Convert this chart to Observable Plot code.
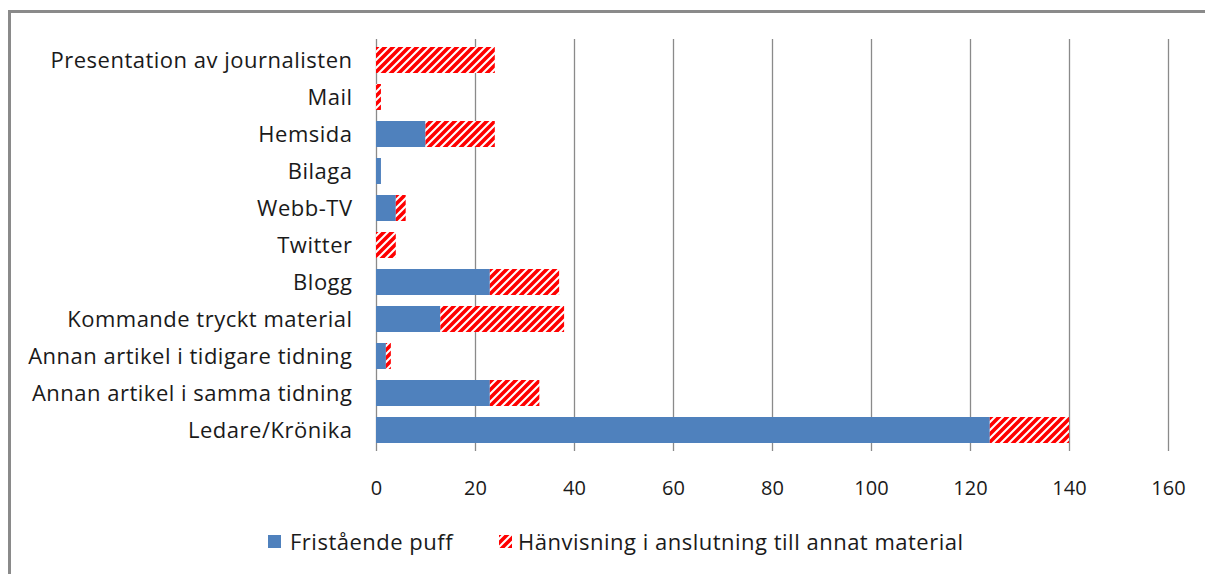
<!DOCTYPE html>
<html>
<head>
<meta charset="utf-8">
<script src="https://cdn.jsdelivr.net/npm/d3@7"></script>
<script src="https://cdn.jsdelivr.net/npm/@observablehq/plot@0.6"></script>
<style>
  html, body { margin: 0; padding: 0; background: #fff; }
  #wrap { position: relative; width: 1205px; height: 574px; overflow: hidden; font-family: "Open Sans", sans-serif; color: #1a1a1a; }
  #frame { position: absolute; left: 8px; top: 10px; width: 1300px; height: 700px; border-left: 3px solid #8a8a8a; border-top: 3px solid #8a8a8a; box-sizing: border-box; }
  #chart { position: absolute; left: 0; top: 0; }
  #legend { position: absolute; left: 0; top: 520px; width: 1205px; height: 54px; font-size: 22px; letter-spacing: 0.5px; }
  .sw { position: absolute; top: 15px; width: 13px; height: 13px; }
  .lt { position: absolute; top: 7px; line-height: 28px; white-space: nowrap; }
</style>
</head>
<body>
<div id="wrap">
  <div id="frame"></div>
  <div id="chart"></div>
  <div id="legend"></div>
</div>
<script>
const categories = ["Presentation av journalisten","Mail","Hemsida","Bilaga","Webb-TV","Twitter","Blogg","Kommande tryckt material","Annan artikel i tidigare tidning","Annan artikel i samma tidning","Ledare/Krönika"];
const seriesNames = ["Fristående puff","Hänvisning i anslutning till annat material"];
const fristaende = [0,0,10,1,4,0,23,13,2,23,124];
const hanvisning = [24,1,14,0,2,4,14,25,1,10,16];
const xTicks = [0,20,40,60,80,100,120,140,160];
const seriesColors = ["#4f81bd","url(#hatch)"];

const rows = [];
categories.forEach((c, i) => {
  rows.push({cat: c, series: seriesNames[0], value: fristaende[i]});
  rows.push({cat: c, series: seriesNames[1], value: hanvisning[i]});
});

const chart = Plot.plot({
  width: 1205,
  height: 520,
  marginLeft: 376,
  marginRight: 37,
  marginTop: 39,
  marginBottom: 69,
  style: {fontFamily: "'Open Sans', sans-serif", fontSize: "20px", color: "#1a1a1a", background: "transparent"},
  x: {domain: [0, 160], ticks: xTicks, tickSize: 0, tickPadding: 29, label: null},
  y: {domain: categories, paddingInner: 0.3, paddingOuter: 0.16, tickSize: 0, tickPadding: 24, label: null},
  color: {domain: seriesNames, range: seriesColors},
  marks: [
    Plot.ruleX(xTicks, {stroke: "#8a8a8a", strokeWidth: 1.3}),
    Plot.barX(rows, Plot.stackX({x: "value", y: "cat", fill: "series"}))
  ]
});

const svg = d3.select(chart);
svg.selectAll('[aria-label="y-axis tick label"]').style("font-size", "22px").style("letter-spacing", "0.5px");
const defs = svg.insert("defs", ":first-child");
const pat = defs.append("pattern").attr("id", "hatch").attr("patternUnits", "userSpaceOnUse").attr("width", 8).attr("height", 8);
pat.append("rect").attr("width", 8).attr("height", 8).attr("fill", "#fff");
pat.append("path").attr("d", "M-2,2 L2,-2 M0,8 L8,0 M6,10 L10,6").attr("stroke", "#ff0000").attr("stroke-width", 3.6);

document.getElementById("chart").appendChild(chart);

// legend
const legend = d3.select("#legend");
const items = [
  {x: 268, tx: 290, fill: seriesColors[0]},
  {x: 499, tx: 518, fill: seriesColors[1]}
];
items.forEach((it, i) => {
  if (i === 0) {
    legend.append("div").attr("class", "sw").style("left", it.x + "px").style("background", it.fill);
  } else {
    const s = legend.append("svg").attr("class", "sw").style("left", it.x + "px").attr("width", 13).attr("height", 13);
    const d = s.append("defs").append("pattern").attr("id", "hatch2").attr("patternUnits", "userSpaceOnUse").attr("width", 8).attr("height", 8);
    d.append("rect").attr("width", 8).attr("height", 8).attr("fill", "#fff");
    d.append("path").attr("d", "M-2,2 L2,-2 M0,8 L8,0 M6,10 L10,6").attr("stroke", "#ff0000").attr("stroke-width", 3.6);
    s.append("rect").attr("width", 13).attr("height", 13).attr("fill", "url(#hatch2)");
  }
  legend.append("div").attr("class", "lt").style("left", it.tx + "px").text(seriesNames[i]);
});
</script>
</body>
</html>
